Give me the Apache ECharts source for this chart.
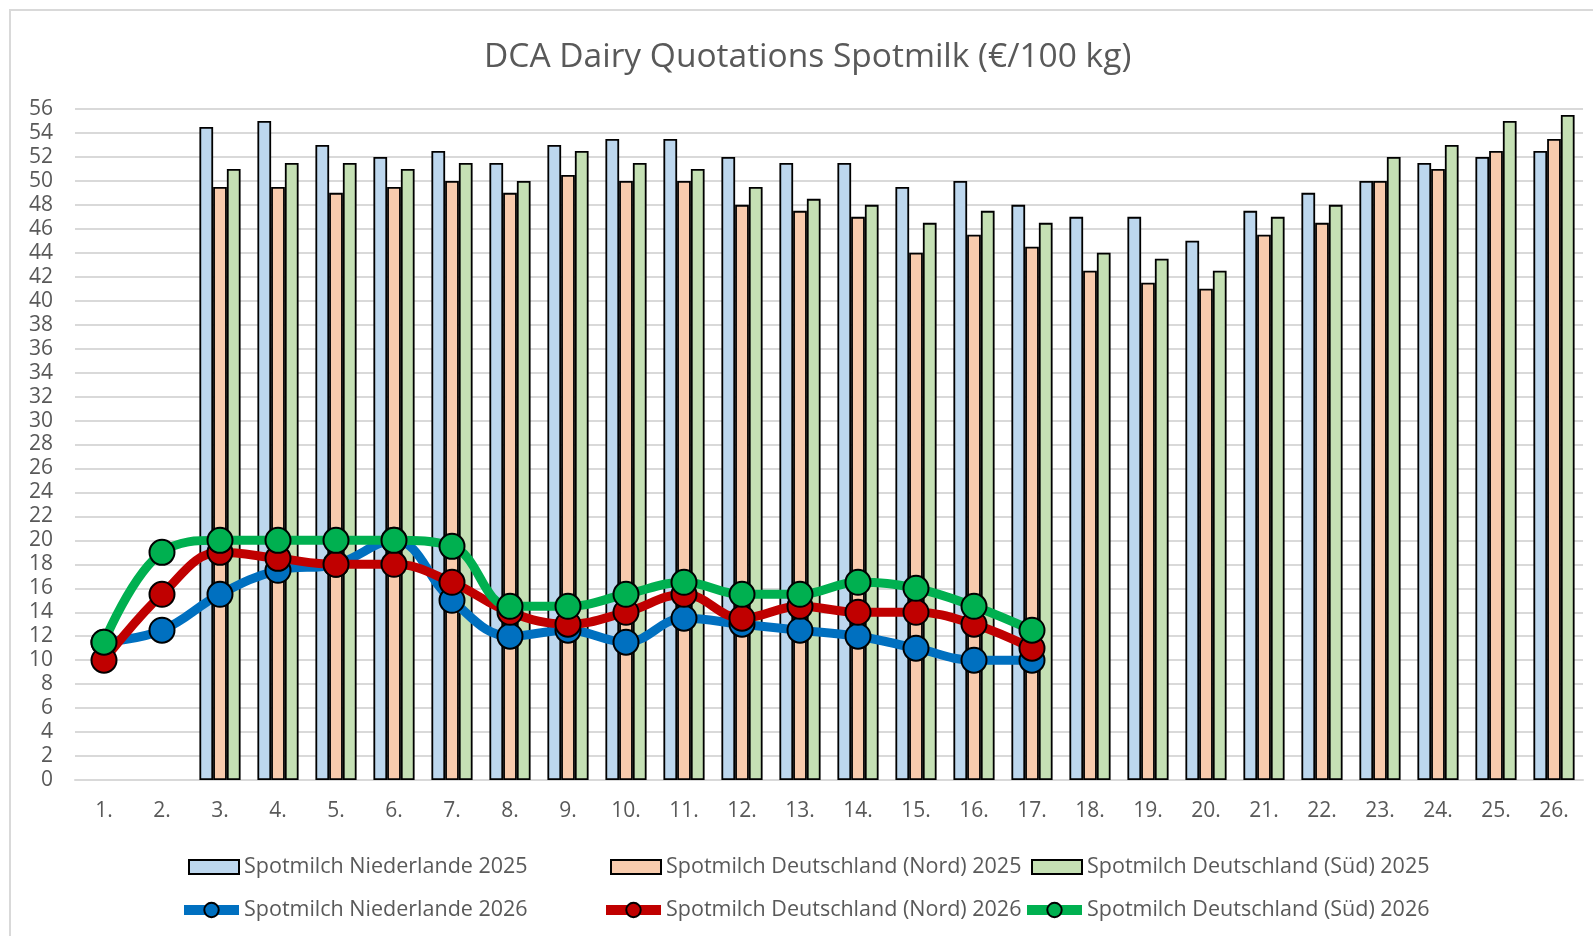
<!DOCTYPE html>
<html>
<head>
<meta charset="utf-8">
<script src="https://cdn.jsdelivr.net/npm/echarts@6/dist/echarts.min.js"></script>
<style>html,body{margin:0;padding:0;background:#fff;}#c{width:1593px;height:936px;}</style>
</head>
<body>
<div id="c"></div>
<script>
const categories = ['1.','2.','3.','4.','5.','6.','7.','8.','9.','10.','11.','12.','13.','14.','15.','16.','17.','18.','19.','20.','21.','22.','23.','24.','25.','26.'];
const yTicks = {min: 0, max: 56, interval: 2};
const nl2025   = [null,null,54.5,55,53,52,52.5,51.5,53,53.5,53.5,52,51.5,51.5,49.5,50,48,47,47,45,47.5,49,50,51.5,52,52.5];
const nord2025 = [null,null,49.5,49.5,49,49.5,50,49,50.5,50,50,48,47.5,47,44,45.5,44.5,42.5,41.5,41,45.5,46.5,50,51,52.5,53.5];
const sued2025 = [null,null,51,51.5,51.5,51,51.5,50,52.5,51.5,51,49.5,48.5,48,46.5,47.5,46.5,44,43.5,42.5,47,48,52,53,55,55.5];
const nl2026   = [11.5,12.5,15.5,17.5,18,20,15,12,12.5,11.5,13.5,13,12.5,12,11,10,10];
const nord2026 = [10,15.5,19,18.5,18,18,16.5,14,13,14,15.5,13.5,14.5,14,14,13,11];
const sued2026 = [11.5,19,20,20,20,20,19.5,14.5,14.5,15.5,16.5,15.5,15.5,16.5,16,14.5,12.5];

const names = ['Spotmilch Niederlande 2025','Spotmilch Deutschland (Nord) 2025','Spotmilch Deutschland (Süd) 2025',
               'Spotmilch Niederlande 2026','Spotmilch Deutschland (Nord) 2026','Spotmilch Deutschland (Süd) 2026'];
const FONT = 'Open Sans';
const TXT = '#595959';

function bar(name, data, color) {
  return {type:'bar', name, data, barGap:'0%', barCategoryGap:'29%',
    itemStyle:{color, borderColor:'#000', borderWidth:1.8}};
}
function line(name, data, color, z) {
  return {type:'line', name, data, smooth:0.4, z, symbol:'circle', symbolSize:25,
    lineStyle:{color, width:9}, itemStyle:{color, borderColor:'#000', borderWidth:2}};
}
function legend(name, left, top, isBar) {
  const l = {data:[name], left, top, itemWidth:isBar ? 50 : 55, itemHeight:isBar ? 14 : 18, padding:0, selectedMode:false,
    textStyle:{fontFamily:FONT, fontSize:21.5, color:TXT, padding:[0,0,0,0]}};
  if (isBar) { l.icon = 'rect'; l.itemStyle = {borderColor:'#000', borderWidth:2}; }
  else { l.lineStyle = {width:10}; l.itemStyle = {borderColor:'#000', borderWidth:2}; }
  return l;
}
const chart = echarts.init(document.getElementById('c'));
chart.setOption({
  animation:false,
  backgroundColor:'#fff',
  textStyle:{fontFamily:FONT},
  title:{text:'DCA Dairy Quotations Spotmilk (€/100 kg)', left:484, top:40, padding:0,
    textStyle:{fontFamily:FONT, fontSize:33.5, fontWeight:'normal', color:TXT}},
  graphic:[{type:'rect', shape:{x:10, y:10, width:1700, height:1000}, silent:true,
    style:{fill:'none', stroke:'#d9d9d9', lineWidth:2}}],
  legend:[
    legend(names[0],188,856,true), legend(names[1],610,856,true), legend(names[2],1031,856,true),
    legend(names[3],179,899,false), legend(names[4],601,899,false), legend(names[5],1022,899,false)
  ],
  grid:{left:75, right:10, top:109, bottom:156},
  xAxis:{type:'category', data:categories, boundaryGap:true,
    axisLine:{lineStyle:{color:'#d9d9d9', width:2}}, axisTick:{show:false},
    axisLabel:{fontFamily:FONT, fontSize:21, color:TXT, margin:21}},
  yAxis:{type:'value', min:yTicks.min, max:yTicks.max, interval:yTicks.interval,
    axisLine:{show:false}, axisTick:{show:false},
    splitLine:{lineStyle:{color:'#d9d9d9', width:2}},
    axisLabel:{fontFamily:FONT, fontSize:21, color:TXT, margin:22}},
  series:[
    bar(names[0], nl2025, '#BDD7EE'),
    bar(names[1], nord2025, '#F8CBAD'),
    bar(names[2], sued2025, '#C5E0B4'),
    line(names[3], nl2026, '#0070C0', 3),
    line(names[4], nord2026, '#C00000', 4),
    line(names[5], sued2026, '#00B050', 5)
  ]
});
</script>
</body>
</html>
